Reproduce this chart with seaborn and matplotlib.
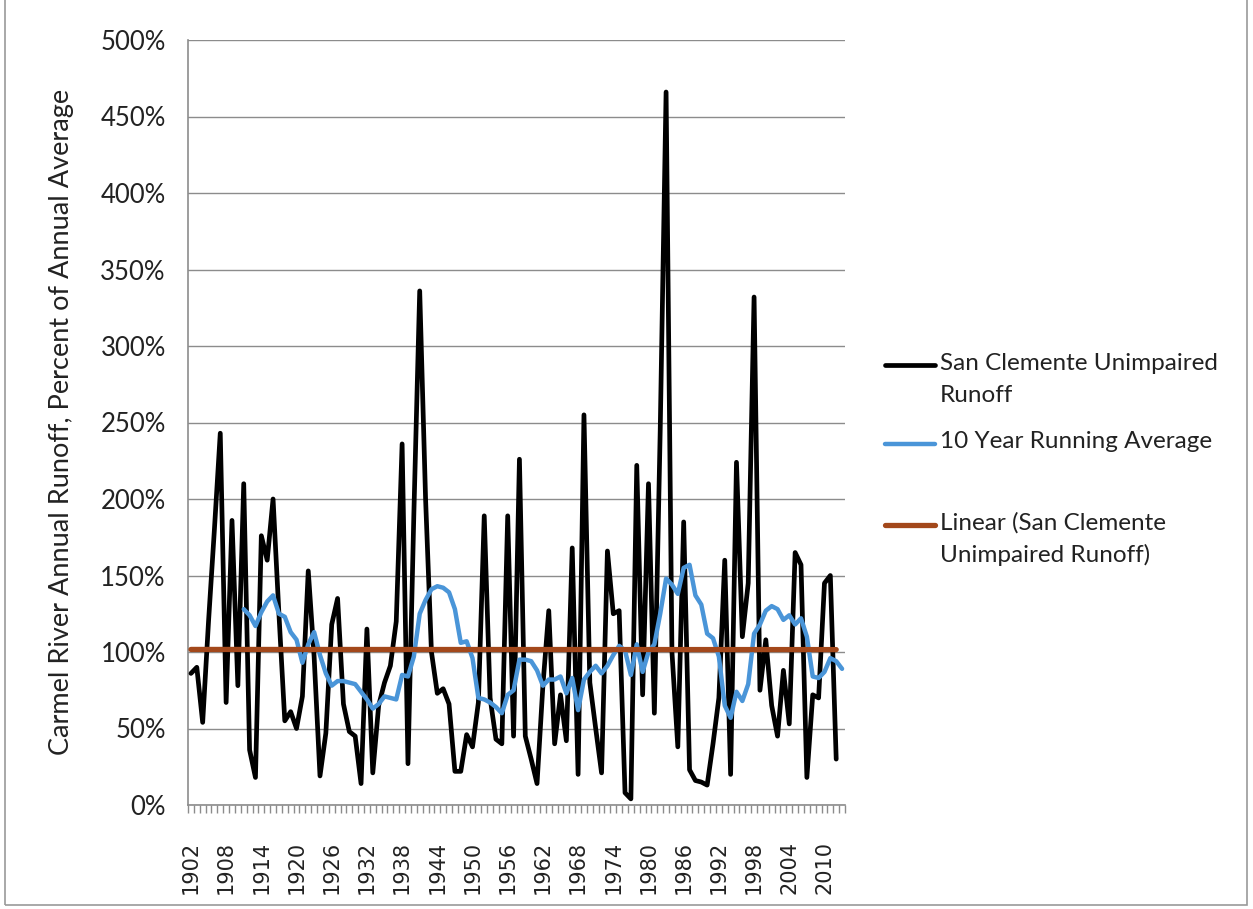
import matplotlib
matplotlib.use("Agg")
import matplotlib.pyplot as plt
import numpy as np
import pandas as pd
import seaborn as sns
from matplotlib.lines import Line2D
from matplotlib.patches import Rectangle

# Category axis: water years 1902-2013
years = list(range(1902, 2014))

# San Clemente unimpaired runoff, percent of annual average (1902-2012)
runoff = [
    86, 90, 54, 120, 180, 243, 67, 186, 78, 210,
    36, 18, 176, 160, 200, 125, 55, 61, 50, 71,
    153, 97, 19, 47, 118, 135, 66, 48, 45, 14,
    115, 21, 65, 80, 91, 120, 236, 27, 190, 336,
    200, 100, 73, 76, 66, 22, 22, 46, 38, 67,
    189, 70, 43, 40, 189, 45, 226, 45, 30, 14,
    78, 127, 40, 72, 42, 168, 20, 255, 80, 50,
    21, 166, 125, 127, 8, 4, 222, 72, 210, 60,
    245, 466, 100, 38, 185, 23, 16, 15, 13, 40,
    70, 160, 20, 224, 110, 145, 332, 75, 108, 65,
    45, 88, 53, 165, 157, 18, 72, 70, 145, 150,
    30,
]

# 10 year running average, percent (1911-2013)
running_avg = [
    128, 124, 117, 126, 133, 137, 125, 123, 113, 108,
    93, 105, 113, 98, 86, 78, 81, 81, 80, 79,
    74, 69, 63, 66, 71, 70, 69, 85, 84, 97,
    125, 134, 141, 143, 142, 139, 128, 106, 107, 96,
    70, 69, 67, 64, 60, 72, 75, 95, 95, 94,
    88, 78, 82, 82, 84, 73, 83, 62, 82, 87,
    91, 86, 91, 98, 104, 101, 85, 105, 87, 100,
    105, 125, 148, 144, 138, 155, 157, 137, 131, 112,
    109, 97, 65, 57, 74, 68, 79, 112, 118, 127,
    130, 128, 121, 124, 118, 122, 110, 84, 83, 87,
    96, 94, 89,
]

label_years = list(range(1902, 2014, 6))
y_ticks = list(range(0, 501, 50))

series_names = [
    "San Clemente Unimpaired\nRunoff",
    "10 Year Running Average",
    "Linear (San Clemente\nUnimpaired Runoff)",
]

BLACK = "#000000"
BLUE = "#4a95d8"
BROWN = "#a3481b"
GRID = "#8c8c8c"
TEXT = "#222222"

sns.set_theme(style="white")
plt.rcParams["font.family"] = ["Lato", "DejaVu Sans"]

W, H = 1253, 909
fig = plt.figure(figsize=(W / 100, H / 100), dpi=100)
fig.patch.set_facecolor("white")

left, right, top, bottom = 188, 845, 40, 805
ax = fig.add_axes([left / W, 1 - bottom / H, (right - left) / W, (bottom - top) / H])

df_run = pd.DataFrame({"year": years[:len(runoff)], "value": runoff})
df_avg = pd.DataFrame({"year": years[9:9 + len(running_avg)], "value": running_avg})

sns.lineplot(data=df_run, x="year", y="value", color=BLACK, lw=3.4, ax=ax, zorder=3)
sns.lineplot(data=df_avg, x="year", y="value", color=BLUE, lw=3.2, ax=ax, zorder=4)
sns.regplot(data=df_run, x="year", y="value", scatter=False, ci=None, truncate=True,
            line_kws=dict(color=BROWN, lw=3.8, zorder=5), ax=ax)

ax.set_xlim(years[0] - 0.5, years[-1] + 0.5)
ax.set_ylim(0, 500)
ax.set_xlabel("")
ax.set_ylabel("")

# horizontal gridlines and percent labels
ax.set_yticks(y_ticks)
ax.set_yticklabels([f"{v}%" for v in y_ticks])
ax.yaxis.grid(True, color=GRID, lw=1.0)
ax.xaxis.grid(False)
ax.set_axisbelow(True)
ax.tick_params(axis="y", length=0, pad=16, labelsize=18.5, labelcolor=TEXT)

# category tick marks between years, labels every sixth year
ax.set_xticks(label_years)
ax.set_xticklabels([str(y) for y in label_years], rotation=90,
                   fontfamily=["DejaVu Sans"])
ax.set_xticks([y - 0.5 for y in years] + [years[-1] + 0.5], minor=True)
ax.tick_params(axis="x", which="major", length=0, pad=26, labelsize=15, labelcolor=TEXT)
ax.tick_params(axis="x", which="minor", length=6, width=1, color=GRID, direction="out", bottom=True)

for side in ("top", "right"):
    ax.spines[side].set_visible(False)
for side in ("left", "bottom"):
    ax.spines[side].set_color(GRID)
    ax.spines[side].set_linewidth(1.2)

fig.text(62 / W, 1 - 422 / H, "Carmel River Annual Runoff, Percent of Annual Average",
         rotation=90, ha="center", va="center", fontsize=19.5, color=TEXT)

# legend on the right
entries = [
    (series_names[0], BLACK, 3.4, 365),
    (series_names[1], BLUE, 3.2, 444),
    (series_names[2], BROWN, 3.8, 525),
]
for name, color, width, ypix in entries:
    fig.add_artist(Line2D([885 / W, 935 / W], [1 - ypix / H, 1 - ypix / H],
                          color=color, lw=width, transform=fig.transFigure))
    for i, line in enumerate(name.split("\n")):
        fig.text(940 / W, 1 - (ypix - 2 + 32 * i) / H, line, ha="left", va="center",
                 fontsize=17.5, color=TEXT)

# page frame
fig.add_artist(Rectangle((5 / W, 4 / H), 1242 / W, 1.0, transform=fig.transFigure,
                         fill=False, edgecolor="#9a9a9a", lw=1.2))

fig.savefig("out.png", dpi=100, facecolor="white")
